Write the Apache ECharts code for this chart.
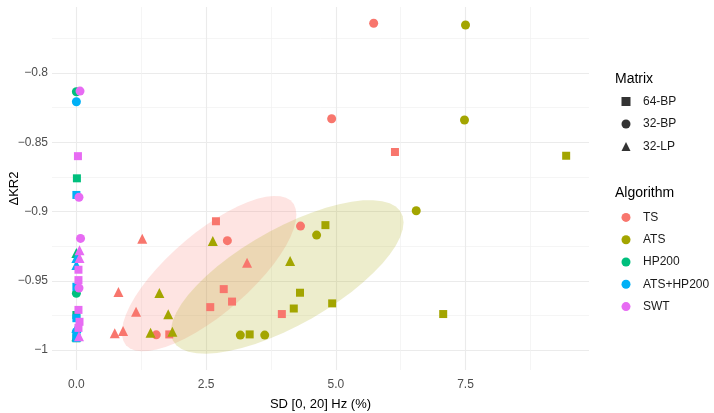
<!DOCTYPE html>
<html>
<head>
<meta charset="utf-8">
<script src="https://cdn.jsdelivr.net/npm/echarts@6.0.0/dist/echarts.min.js"></script>
<style>
  html, body { margin: 0; padding: 0; background: #fff; }
  #main { width: 714px; height: 413px; }
</style>
</head>
<body>
<div id="main"></div>
<script>
// categories
var algorithms = ['TS', 'ATS', 'HP200', 'ATS+HP200', 'SWT'];
var algoColors = ['#F8766D', '#A3A500', '#00BF7D', '#00B0F6', '#E76BF3'];
var matrices = ['64-BP', '32-BP', '32-LP'];
var matrixSymbols = ['rect', 'circle', 'triangle'];
var matrixSizes = [8, 9, 10];

// ticks
var xTicks = [0, 2.5, 5, 7.5];
var xMinor = [1.25, 3.75, 6.25, 8.75];
var yTicks = [-1, -0.95, -0.9, -0.85, -0.8];
var yMinor = [-0.975, -0.925, -0.875, -0.825, -0.775];

// points: [SD, dKR2, matrix]
var tsPoints = [
  [5.73, -0.764, '32-BP'], [4.92, -0.833, '32-BP'], [4.32, -0.9105, '32-BP'],
  [2.91, -0.921, '32-BP'], [1.54, -0.989, '32-BP'],
  [6.14, -0.857, '64-BP'], [2.69, -0.907, '64-BP'], [2.84, -0.956, '64-BP'],
  [3.00, -0.965, '64-BP'], [2.58, -0.969, '64-BP'], [3.96, -0.974, '64-BP'],
  [1.79, -0.9887, '64-BP'],
  [1.27, -0.9196, '32-LP'], [3.29, -0.937, '32-LP'], [0.81, -0.958, '32-LP'],
  [1.15, -0.9723, '32-LP'], [0.74, -0.9879, '32-LP'], [0.90, -0.9863, '32-LP']
];
var atsPoints = [
  [7.50, -0.7653, '32-BP'], [7.48, -0.8339, '32-BP'], [6.55, -0.8994, '32-BP'],
  [4.63, -0.917, '32-BP'], [3.16, -0.9892, '32-BP'], [3.63, -0.9892, '32-BP'],
  [9.44, -0.8597, '64-BP'], [4.80, -0.9098, '64-BP'], [4.31, -0.9586, '64-BP'],
  [4.93, -0.9663, '64-BP'], [4.19, -0.970, '64-BP'], [7.07, -0.974, '64-BP'],
  [3.34, -0.9887, '64-BP'],
  [2.63, -0.9213, '32-LP'], [4.12, -0.9357, '32-LP'], [1.60, -0.9588, '32-LP'],
  [1.77, -0.9742, '32-LP'], [1.43, -0.9875, '32-LP'], [1.85, -0.9868, '32-LP']
];
var hp200Points = [
  [0.0, -0.8135, '32-BP'], [0.01, -0.876, '64-BP'], [0.0, -0.930, '32-LP'],
  [0.0, -0.959, '32-BP'], [0.0, -0.9747, '64-BP'], [0.0, -0.9915, '64-BP'],
  [0.0, -0.990, '32-LP']
];
var atsHp200Points = [
  [0.0, -0.8207, '32-BP'], [0.0, -0.888, '64-BP'], [0.0, -0.9336, '32-LP'],
  [0.0, -0.9386, '32-LP'], [0.0, -0.9543, '64-BP'], [0.0, -0.977, '64-BP'],
  [0.0, -0.9868, '32-BP'], [0.0, -0.9913, '64-BP'], [0.0, -0.984, '32-LP']
];
var swtPoints = [
  [0.07, -0.813, '32-BP'], [0.03, -0.86, '64-BP'], [0.05, -0.8897, '32-BP'],
  [0.08, -0.9194, '32-BP'], [0.06, -0.928, '32-LP'], [0.06, -0.9336, '32-LP'],
  [0.04, -0.942, '64-BP'], [0.04, -0.9495, '64-BP'], [0.05, -0.9552, '32-BP'],
  [0.04, -0.971, '64-BP'], [0.06, -0.9796, '64-BP'], [0.04, -0.984, '64-BP'],
  [0.05, -0.990, '32-LP']
];
var allPoints = [tsPoints, atsPoints, hp200Points, atsHp200Points, swtPoints];
var ellipseLevel = 0.5;

// robust t ellipse like stat_ellipse (cov.trob)
function covTrob(pts) {
  var nu = 5, p = 2, n = pts.length;
  var w = pts.map(function () { return 1; });
  var loc = [0, 0];
  pts.forEach(function (q) { loc[0] += q[0] / n; loc[1] += q[1] / n; });
  var X;
  for (var it = 0; it < 25; it++) {
    var w0 = w.slice();
    X = pts.map(function (q) { return [q[0] - loc[0], q[1] - loc[1]]; });
    var sw = w.reduce(function (a, b) { return a + b; }, 0);
    var a = 0, b = 0, c = 0;
    X.forEach(function (d, i) {
      a += w[i] * d[0] * d[0] / sw; b += w[i] * d[0] * d[1] / sw; c += w[i] * d[1] * d[1] / sw;
    });
    var det = a * c - b * b;
    w = X.map(function (d) {
      var Q = (c * d[0] * d[0] - 2 * b * d[0] * d[1] + a * d[1] * d[1]) / det;
      return (nu + p) / (nu + Q);
    });
    var tw = w.reduce(function (s, v) { return s + v; }, 0);
    loc = [0, 0];
    pts.forEach(function (q, i) { loc[0] += w[i] * q[0] / tw; loc[1] += w[i] * q[1] / tw; });
    var done = w.every(function (v, i) { return Math.abs(v - w0[i]) < 0.01; });
    if (done) break;
  }
  var s11 = 0, s12 = 0, s22 = 0;
  X.forEach(function (d, i) {
    s11 += w[i] * d[0] * d[0] / n; s12 += w[i] * d[0] * d[1] / n; s22 += w[i] * d[1] * d[1] / n;
  });
  return { center: loc, cov: [s11, s12, s22] };
}

function ellipsePath(pts) {
  var est = covTrob(pts);
  var dfd = pts.length - 1;
  // F quantile with 2 numerator df has a closed form
  var qf = dfd / 2 * (Math.pow(1 - ellipseLevel, -2 / dfd) - 1);
  var radius = Math.sqrt(2 * qf);
  var ra = Math.sqrt(est.cov[0]);
  var rb = est.cov[1] / ra;
  var rc = Math.sqrt(est.cov[2] - rb * rb);
  var out = [];
  for (var k = 0; k <= 51; k++) {
    var t = k * 2 * Math.PI / 51;
    out.push([
      est.center[0] + radius * ra * Math.cos(t),
      est.center[1] + radius * (rb * Math.cos(t) + rc * Math.sin(t))
    ]);
  }
  return out;
}

var series = [];

// ellipses for TS and ATS
[0, 1].forEach(function (ai) {
  var path = ellipsePath(allPoints[ai].map(function (q) { return [q[0], q[1]]; }));
  series.push({
    type: 'custom',
    name: algorithms[ai] + '-ellipse',
    coordinateSystem: 'cartesian2d',
    silent: true,
    z: 1,
    data: [0],
    renderItem: function (params, api) {
      return {
        type: 'polygon',
        shape: { points: path.map(function (q) { return api.coord(q); }) },
        style: { fill: algoColors[ai], opacity: 0.2 }
      };
    }
  });
});

algorithms.forEach(function (name, ai) {
  series.push({
    type: 'scatter',
    name: name,
    z: 3,
    itemStyle: { color: algoColors[ai], opacity: 1 },
    emphasis: { disabled: true },
    data: allPoints[ai].map(function (q) {
      var mi = matrices.indexOf(q[2]);
      return { value: [q[0], q[1]], symbol: matrixSymbols[mi], symbolSize: matrixSizes[mi] };
    })
  });
});

// legend-only series for shapes
matrices.forEach(function (m, mi) {
  series.push({
    type: 'scatter',
    name: m,
    symbol: matrixSymbols[mi],
    symbolKeepAspect: true,
    itemStyle: { color: '#000' },
    data: []
  });
});

var font = 'Liberation Sans, Arial, sans-serif';
var chart = echarts.init(document.getElementById('main'), null, { renderer: 'canvas' });
chart.setOption({
  animation: false,
  backgroundColor: '#fff',
  textStyle: { fontFamily: font },
  title: [
    { text: 'Matrix', left: 610, top: 67, textStyle: { fontSize: 14, fontWeight: 'normal', color: '#000', fontFamily: font } },
    { text: 'Algorithm', left: 610, top: 181, textStyle: { fontSize: 14, fontWeight: 'normal', color: '#000', fontFamily: font } }
  ],
  legend: [
    {
      data: matrices.map(function (m, mi) { return { name: m, icon: matrixSymbols[mi] }; }),
      orient: 'vertical', left: 616.5, top: 90.5,
      itemWidth: 9, itemHeight: 9, itemGap: 10.5,
      textStyle: { fontSize: 12, color: '#1a1a1a', fontFamily: font, padding: [0, 0, 0, 7.5] },
      selectedMode: false
    },
    {
      data: algorithms, orient: 'vertical', left: 616.5, top: 206.4, icon: 'circle',
      itemWidth: 9, itemHeight: 9, itemGap: 10.3,
      textStyle: { fontSize: 12, color: '#1a1a1a', fontFamily: font, padding: [0, 0, 0, 7.5] },
      selectedMode: false
    }
  ],
  grid: { left: 52, right: 125, top: 7, bottom: 43, outerBoundsMode: 'none' },
  xAxis: [
    {
      type: 'value', min: -0.47, max: 9.88,
      name: 'SD [0, 20] Hz (%)', nameLocation: 'middle', nameGap: 28, nameMoveOverlap: false,
      nameTextStyle: { fontSize: 13, color: '#000', fontFamily: font },
      axisLine: { show: false }, axisTick: { show: false, customValues: xTicks },
      axisLabel: { customValues: xTicks, color: '#4d4d4d', fontSize: 12, margin: 9,
        formatter: function (v) { return v.toFixed(1); } },
      splitLine: { show: true, lineStyle: { color: '#ebebeb', width: 1.1 } }
    },
    {
      type: 'value', min: -0.47, max: 9.88, position: 'bottom',
      axisLine: { show: false }, axisTick: { show: false, customValues: xMinor },
      axisLabel: { show: false },
      splitLine: { show: true, lineStyle: { color: '#f1f1f1', width: 0.7 } }
    }
  ],
  yAxis: [
    {
      type: 'value', min: -1.0144, max: -0.7523,
      name: '\u0394KR2', nameLocation: 'middle', nameGap: 31, nameMoveOverlap: false,
      nameTextStyle: { fontSize: 13, color: '#000', fontFamily: font },
      axisLine: { show: false }, axisTick: { show: false, customValues: yTicks },
      axisLabel: { customValues: yTicks, color: '#4d4d4d', fontSize: 12, margin: 4,
        formatter: function (v) { return String(v).replace('-', '\u2212'); } },
      splitLine: { show: true, lineStyle: { color: '#ebebeb', width: 1.1 } }
    },
    {
      type: 'value', min: -1.0144, max: -0.7523, position: 'left',
      axisLine: { show: false }, axisTick: { show: false, customValues: yMinor },
      axisLabel: { show: false },
      splitLine: { show: true, lineStyle: { color: '#f1f1f1', width: 0.7 } }
    }
  ],
  series: series
});
</script>
</body>
</html>
